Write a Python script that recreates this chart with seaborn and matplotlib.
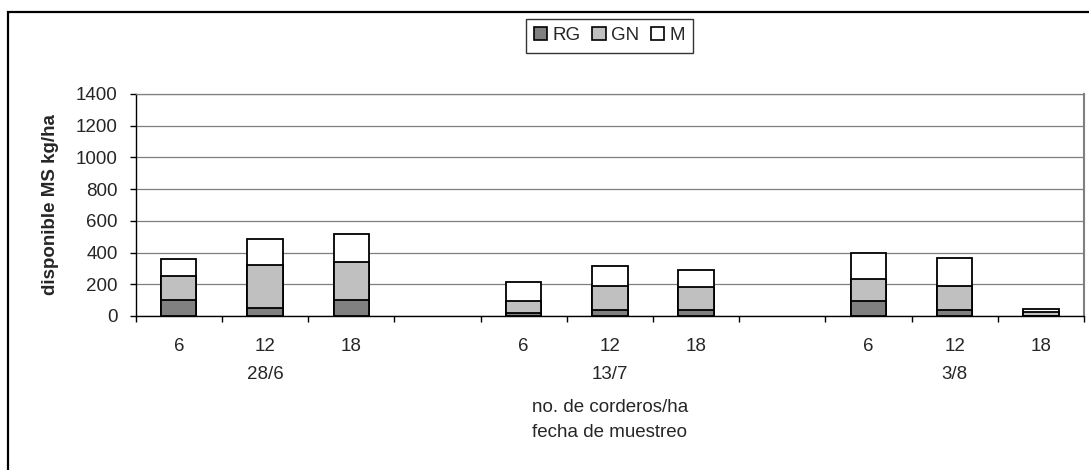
import matplotlib
matplotlib.use("Agg")
import matplotlib.pyplot as plt
from matplotlib.patches import Rectangle, Patch
import numpy as np
import pandas as pd
import seaborn as sns

# Forage availability (kg DM/ha) by sampling date and stocking rate
fechas = ["28/6", "13/7", "3/8"]
corderos = ["6", "12", "18"]
RG = [100, 48, 100, 21, 38, 38, 92, 38, 3]
GN = [153, 276, 243, 73, 152, 144, 140, 152, 22]
M = [109, 161, 172, 119, 126, 111, 163, 174, 17]
series = ["RG", "GN", "M"]
colores = {"RG": "#808080", "GN": "#c0c0c0", "M": "#ffffff"}
y_ticks = [0, 200, 400, 600, 800, 1000, 1200, 1400]

sns.set_theme(style="white")
plt.rcParams["font.family"] = ["Liberation Sans", "DejaVu Sans"]
FS = 13.5

# slot order with an empty slot between sampling dates
order = []
for i, f in enumerate(fechas):
    for c in corderos:
        order.append(f"{f}|{c}")
    if i < len(fechas) - 1:
        order.append(f"gap{i}")

keys = [f"{f}|{c}" for f in fechas for c in corderos]
df = pd.DataFrame({"slot": keys, "RG": RG, "GN": GN, "M": M})
df["top_RG"] = df["RG"]
df["top_GN"] = df["RG"] + df["GN"]
df["top_M"] = df["RG"] + df["GN"] + df["M"]

fig = plt.figure(figsize=(10.89, 4.70), dpi=100)
ax = fig.add_axes([135.7 / 1089, 1 - 316 / 470, (1084 - 135.7) / 1089, (316 - 94) / 470])

# stacked bars: draw cumulative totals from the top segment down
for s in ["M", "GN", "RG"]:
    sns.barplot(data=df, x="slot", y=f"top_{s}", order=order, color=colores[s],
                saturation=1, edgecolor="black", linewidth=1.3, width=0.41,
                errorbar=None, ax=ax, zorder=3)

ax.set_ylim(0, 1400)
ax.set_xlim(-0.5, len(order) - 0.5)
ax.set_yticks(y_ticks)
ax.set_yticklabels([str(v) for v in y_ticks], fontsize=FS)
ax.yaxis.grid(True, color="#7f7f7f", linewidth=0.9, zorder=0)
ax.set_axisbelow(True)

xlabels = []
for k in order:
    xlabels.append("" if k.startswith("gap") else k.split("|")[1])
ax.set_xticks(range(len(order)))
ax.set_xticklabels(xlabels, fontsize=FS)
ax.tick_params(axis="x", which="major", length=0, pad=16)
ax.set_xticks(np.arange(-0.5, len(order), 1.0), minor=True)
ax.tick_params(axis="x", which="minor", length=4, width=1, color="black", direction="out", bottom=True)
ax.tick_params(axis="y", length=4, width=1, color="black", direction="out", left=True, pad=9)

ax.set_xlabel("")
ax.set_ylabel("disponible MS kg/ha", fontsize=FS, fontweight="bold", labelpad=12)

for side in ["left", "bottom"]:
    ax.spines[side].set_color("black")
    ax.spines[side].set_linewidth(1)
ax.spines["right"].set_color("#7f7f7f")
ax.spines["right"].set_linewidth(1.5)
ax.spines["top"].set_color("#7f7f7f")
ax.spines["top"].set_linewidth(0.9)

# date labels beneath each group of stocking rates
for i, f in enumerate(fechas):
    centro = order.index(f"{f}|12")
    ax.text(centro, -0.262, f, transform=ax.get_xaxis_transform(),
            ha="center", va="center", fontsize=FS)

ax.text(0.5, -0.412, "no. de corderos/ha", transform=ax.transAxes,
        ha="center", va="center", fontsize=FS)
ax.text(0.5, -0.525, "fecha de muestreo", transform=ax.transAxes,
        ha="center", va="center", fontsize=FS)

handles = [Patch(facecolor=colores[s], edgecolor="black", linewidth=1.2) for s in series]
leg = fig.legend(handles, series, loc="center", bbox_to_anchor=(609.5 / 1089, 1 - 35.5 / 470),
                 ncol=3, fontsize=FS, frameon=True, fancybox=False,
                 handlelength=0.7, handleheight=0.7, handletextpad=0.3,
                 columnspacing=0.6, borderpad=0.45, borderaxespad=0)
leg.get_frame().set_edgecolor("black")
leg.get_frame().set_linewidth(1.0)

# outer chart frame
fig.patches.append(Rectangle((8 / 1089, -0.1), 1.2, 1.1 - 12 / 470, transform=fig.transFigure,
                             fill=False, edgecolor="black", linewidth=1.6, zorder=0))

fig.savefig("out.png", dpi=100)
